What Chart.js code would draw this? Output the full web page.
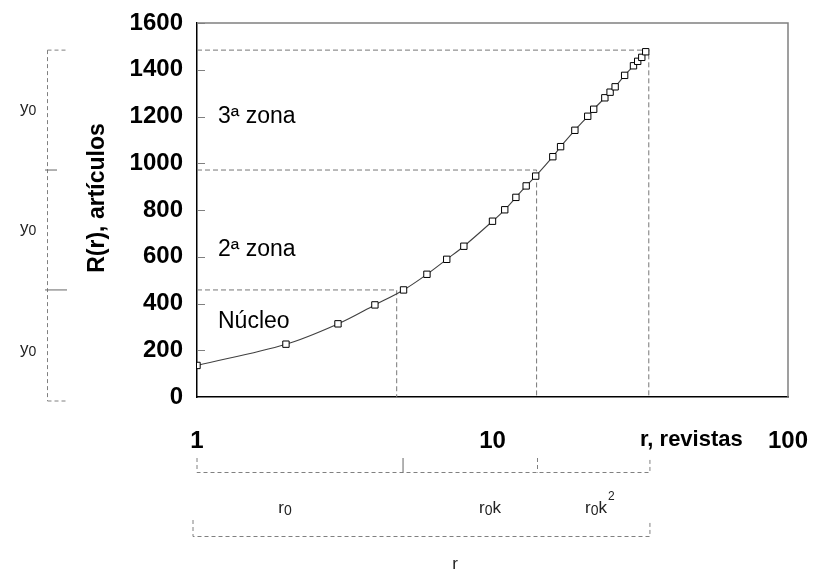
<!DOCTYPE html>
<html><head><meta charset="utf-8">
<script src="https://cdn.jsdelivr.net/npm/chart.js@4.4.0/dist/chart.umd.min.js"></script>
<style>html,body{margin:0;padding:0;background:#fff}#wrap{width:815px;height:571px}</style>
</head><body><div id="wrap"><canvas id="c" width="815" height="571"></canvas></div>
<script>
// Data
const journalsRank = [1,2,3,4,5,6,7,8,10,11,12,13,14,16,17,19,21,22,24,25,26,28,30,31,32,33];
const articlesCum  = [135,226,313,394,458,525,589,645,752,801,854,903,945,1028,1071,1141,1201,1231,1280,1304,1327,1376,1417,1436,1453,1477];
// Zone boundaries (dashed guides): rank and cumulative articles
const zoneRank     = [4.74, 14.1, 33.8];
const zoneArticles = [458, 971, 1484];
// bottom bracket tick ranks
const bracketRanks = [1, 4.98, 14.2, 34.1];
const xTickLabels  = [1, 10, 100];
const yTicks       = [0,200,400,600,800,1000,1200,1400,1600];

const FONT = '"Liberation Sans", Arial, sans-serif';

const guideSets = zoneRank.map((r,i)=>({
  type:'line',
  data:[{x:1,y:zoneArticles[i]},{x:r,y:zoneArticles[i]},{x:r,y:0}],
  borderColor:'#777', borderWidth:1, borderDash:[5,3], pointRadius:0, tension:0, order:2, fill:false
}));

function sub(ctx, base, s, x, y, size, align, extra){
  extra = extra || '';
  ctx.font = size+'px '+FONT;
  const w1 = ctx.measureText(base).width;
  const w3 = ctx.measureText(extra).width;
  ctx.font = Math.round(size*0.8)+'px '+FONT;
  const w2 = ctx.measureText(s).width;
  let x0 = align==='center' ? x-(w1+w2+w3)/2 : x;
  ctx.textAlign='left'; ctx.textBaseline='alphabetic';
  ctx.font = size+'px '+FONT; ctx.fillText(base, x0, y);
  ctx.font = Math.round(size*0.8)+'px '+FONT; ctx.fillText(s, x0+w1, y+2);
  ctx.font = size+'px '+FONT; if(extra) ctx.fillText(extra, x0+w1+w2, y);
  return x0+w1+w2+w3;
}

const deco = {
  id:'deco',
  afterDraw(chart){
    const ctx = chart.ctx, xs = chart.scales.x, ys = chart.scales.y, a = chart.chartArea;
    ctx.save();
    // top/right frame
    ctx.strokeStyle='#808080'; ctx.lineWidth=1.5; ctx.setLineDash([]);
    ctx.beginPath(); ctx.moveTo(a.left, a.top); ctx.lineTo(a.right, a.top); ctx.lineTo(a.right, a.bottom); ctx.stroke();
    // inward y ticks
    ctx.lineWidth=1;
    yTicks.forEach(v=>{ if(v===0) return; const py=Math.round(ys.getPixelForValue(v))+0.5;
      ctx.beginPath(); ctx.moveTo(a.left, py); ctx.lineTo(a.left+8, py); ctx.stroke(); });
    // left bracket
    const bx = 47.5;
    const yTop = ys.getPixelForValue(zoneArticles[2]), yMid = ys.getPixelForValue(zoneArticles[1]),
          yLow = ys.getPixelForValue(zoneArticles[0]), yBot = ys.getPixelForValue(0)+4;
    ctx.strokeStyle='#808080'; ctx.setLineDash([4,3]);
    ctx.beginPath(); ctx.moveTo(bx,yTop); ctx.lineTo(bx,yBot); ctx.stroke();
    ctx.beginPath(); ctx.moveTo(bx,yTop); ctx.lineTo(67,yTop); ctx.stroke();
    ctx.beginPath(); ctx.moveTo(bx,yBot); ctx.lineTo(67,yBot); ctx.stroke();
    ctx.setLineDash([]); ctx.strokeStyle='#666';
    ctx.beginPath(); ctx.moveTo(45,yMid); ctx.lineTo(57,yMid); ctx.stroke();
    ctx.beginPath(); ctx.moveTo(45,yLow); ctx.lineTo(67,yLow); ctx.stroke();
    // bottom brackets
    const px = bracketRanks.map(r=>xs.getPixelForValue(r));
    const b1=472.5, b1t=458, b2=536.5, b2t=520;
    ctx.strokeStyle='#808080'; ctx.setLineDash([4,3]);
    ctx.beginPath(); ctx.moveTo(px[0],b1t); ctx.lineTo(px[0],b1); ctx.lineTo(px[3],b1); ctx.lineTo(px[3],b1t); ctx.stroke();
    ctx.beginPath(); ctx.moveTo(px[2],b1t); ctx.lineTo(px[2],b1); ctx.stroke();
    ctx.beginPath(); ctx.moveTo(px[0]-4,b2t); ctx.lineTo(px[0]-4,b2); ctx.lineTo(px[3],b2); ctx.lineTo(px[3],b2t); ctx.stroke();
    ctx.setLineDash([]); ctx.strokeStyle='#666';
    ctx.beginPath(); ctx.moveTo(px[1],b1t); ctx.lineTo(px[1],b1); ctx.stroke();

    // texts
    ctx.fillStyle='#222';
    sub(ctx,'y','0',20,113,17,'left');
    sub(ctx,'y','0',20,233,17,'left');
    sub(ctx,'y','0',20,354,17,'left');
    sub(ctx,'r','0',285,513,17,'center');
    sub(ctx,'r','0',490,513,17,'center','k');
    const e = sub(ctx,'r','0',596,513,17,'center','k');
    ctx.font='12px '+FONT; ctx.fillText('2', e+1, 500);
    ctx.font='17px '+FONT; ctx.textAlign='center'; ctx.fillText('r', 455, 569);

    ctx.fillStyle='#000';
    ctx.font='23px '+FONT; ctx.textAlign='left'; ctx.textBaseline='middle';
    ctx.fillText('3ª zona', 218, 117);
    ctx.fillText('2ª zona', 218, 250);
    ctx.fillText('Núcleo', 218, 322);
    ctx.font='bold 22px '+FONT;
    ctx.fillText('r, revistas', 640, 440);
    ctx.font='bold 23px '+FONT;
    ctx.save(); ctx.translate(98,198); ctx.rotate(-Math.PI/2);
    ctx.textAlign='center'; ctx.fillText('R(r), artículos', 0, 0); ctx.restore();
    ctx.restore();
  }
};

new Chart(document.getElementById('c'), {
  type:'line',
  data:{ datasets:[
    { data: journalsRank.map((r,i)=>({x:r,y:articlesCum[i]})),
      borderColor:'#404040', borderWidth:1.1, tension:0.35, order:0, fill:false,
      pointStyle:'rect', pointRadius:4.5, pointBackgroundColor:'#fff', pointBorderColor:'#000', pointBorderWidth:1 },
    ...guideSets
  ]},
  options:{
    responsive:false, animation:false, events:[],
    layout:{padding:{left:0,right:27,top:23,bottom:0}},
    plugins:{legend:{display:false}, tooltip:{enabled:false}},
    scales:{
      x:{ type:'logarithmic', min:1, max:100,
          afterFit(s){ s.height = 174; s.paddingLeft = 0; s.paddingRight = 0; },
          grid:{display:false, drawTicks:false},
          border:{display:true, color:'#000', width:1.5},
          ticks:{ autoSkip:false, maxRotation:0, padding:30, color:'#000',
                  font:{family:FONT, size:24, weight:'bold'},
                  callback:(v)=> xTickLabels.includes(v) ? String(v) : '' } },
      y:{ min:0, max:1600,
          afterFit(s){ s.width = 197; s.paddingTop = 0; s.paddingBottom = 0; },
          grid:{display:false, drawTicks:false},
          border:{display:true, color:'#000', width:1.5},
          ticks:{ stepSize:200, padding:14, color:'#000',
                  font:{family:FONT, size:24, weight:'bold'},
                  callback:(v)=> String(v) } }
    }
  },
  plugins:[deco]
});
</script></body></html>
